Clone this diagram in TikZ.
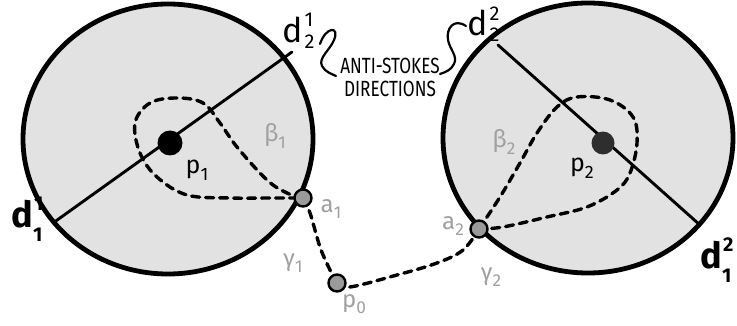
\documentclass[tikz,border=0pt]{standalone}
\usepackage{fontspec}
\setmainfont{Fira Sans}
\definecolor{fillgray}{HTML}{E2E2E2}
\definecolor{labgray}{HTML}{A0A0A0}
\definecolor{ptgray}{HTML}{9A9A9A}
\definecolor{darkdot}{HTML}{2E2E2E}
\newcommand{\lsub}[2]{#1\raisebox{-0.28em}{\scalebox{0.72}{#2}}}
\begin{document}
\begin{tikzpicture}[x=1pt,y=-1pt,
  disk/.style={draw=black,line width=4.8pt,fill=fillgray},
  dline/.style={line width=2.9pt,line cap=round},
  dpath/.style={line width=3.4pt,dash pattern=on 8pt off 6pt,line cap=round},
  ptnode/.style={circle,draw=black,line width=2.4pt,fill=ptgray,minimum size=17pt,inner sep=0pt},
  bigdot/.style={circle,fill=black,minimum size=25pt,inner sep=0pt},
  glab/.style={text=labgray,font=\fontsize{24}{24}\selectfont,inner sep=0pt},
  blab/.style={text=black,font=\fontsize{25}{25}\selectfont,inner sep=0pt},
  dlab/.style={text=black,font=\fontsize{36}{36}\selectfont\bfseries,inner sep=0pt},
  dsmall/.style={text=black,font=\fontsize{20}{20}\selectfont\bfseries,inner sep=0pt},
  dhand/.style={text=black,font=\fontsize{34}{34}\selectfont,inner sep=0pt},
  dhsmall/.style={text=black,font=\fontsize{20}{20}\selectfont,inner sep=0pt},
  hand/.style={text=black,font=\fontsize{22}{22}\selectfont,inner sep=0pt}]
\useasboundingbox (0,0) rectangle (737,326);
% disks
\draw[disk] (168,139) ellipse [x radius=145,y radius=135];
\draw[disk] (588,138) ellipse [x radius=145,y radius=135];
% anti-Stokes lines
\coordinate (d11) at (53,223);
\coordinate (d21) at (292,52);
\coordinate (d22) at (498,45);
\coordinate (d12) at (700,225);
\draw[dline] (d11) -- (d21);
\draw[dline] (d22) -- (d12);
% point coordinates
\coordinate (A1) at (303,198);
\coordinate (A2) at (479,229);
\coordinate (P0) at (337,283);
% dashed loops
\draw[dpath] plot[smooth,tension=0.6] coordinates {(A1) (287,193) (267,180) (237,147) (220,123) (203,103) (177,98) (150,103) (135,123) (140,153) (157,177) (187,195) (230,198) (270,198) (A1)};
\draw[dpath] plot[smooth,tension=0.6] coordinates {(A2) (500,197) (520,163) (537,133) (557,107) (577,97) (610,100) (633,117) (637,143) (630,173) (617,190) (587,207) (547,217) (503,227) (A2)};
% gamma paths
\draw[dpath] plot[smooth,tension=0.6] coordinates {(A1) (310,213) (320,247) (330,270) (P0)};
\draw[dpath] plot[smooth,tension=0.6] coordinates {(P0) (350,287) (397,275) (437,263) (463,250) (A2)};
% nodes
\node[bigdot] (p1) at (170,143) {};
\node[bigdot,fill=darkdot,minimum size=23pt] (p2) at (603,143) {};
\node[ptnode] (a1) at (A1) {};
\node[ptnode] (a2) at (A2) {};
\node[ptnode] (p0) at (P0) {};
% labels
\node[blab] (lp1) at (197,170) {\lsub{p}{1}};
\node[blab] (lp2) at (582,168) {\lsub{p}{2}};
\node[glab] (lb1) at (275,136) {\lsub{β}{1}};
\node[glab] (lb2) at (504,142) {\lsub{β}{2}};
\node[glab] (la1) at (331,209) {\lsub{a}{1}};
\node[glab] (la2) at (453,226) {\lsub{a}{2}};
\node[glab] (lp0) at (354,304) {\lsub{p}{0}};
\node[glab] (lg1) at (293,263) {\lsub{γ}{1}};
\node[glab] (lg2) at (491,277) {\lsub{γ}{2}};
% d labels
\node[dlab,anchor=base] (ld11) at (22,227) {d};
\node[dsmall,anchor=north west] (ld11a) at ([xshift=1pt,yshift=3pt]ld11.north east) {1};
\node[dsmall,anchor=north west] (ld11b) at ([xshift=0pt,yshift=-1pt]ld11.base east) {1};
\node[dlab,anchor=base] (ld12) at (711,268) {d};
\node[dsmall,anchor=north west] (ld12a) at ([xshift=1pt,yshift=3pt]ld12.north east) {2};
\node[dsmall,anchor=north west] (ld12b) at ([xshift=0pt,yshift=-1pt]ld12.base east) {1};
\node[dhand,anchor=base] (ld21) at (293,43) {d};
\node[dhsmall,anchor=north west] (ld21a) at ([xshift=1pt,yshift=4pt]ld21.north east) {1};
\node[dhsmall,anchor=south west] (ld21b) at ([xshift=1pt,yshift=-6pt]ld21.base east) {2};
\node[dhand,anchor=base] (ld22) at (478,36) {d};
\node[dhsmall,anchor=north west] (ld22a) at ([xshift=1pt,yshift=4pt]ld22.north east) {2};
\node[dhsmall,anchor=south west] (ld22b) at ([xshift=1pt,yshift=-6pt]ld22.base east) {2};
\node[hand] (anti) at (390,66) {\scalebox{0.78}[1]{ANTI-STOKES}};
\node[hand] (dirs) at (390,89) {\scalebox{0.78}[1]{DIRECTIONS}};
% braces
\draw[line width=2.2pt,line cap=round] (320,44) .. controls (326,26) and (340,26) .. (334,40) .. controls (330,50) and (318,58) .. (322,66) .. controls (325,72) and (332,74) .. (336,76);
\draw[line width=2.2pt,line cap=round] (466,26) .. controls (454,18) and (446,28) .. (448,40) .. controls (450,50) and (458,56) .. (454,64) .. controls (451,70) and (446,72) .. (440,74);
\end{tikzpicture}
\end{document}
